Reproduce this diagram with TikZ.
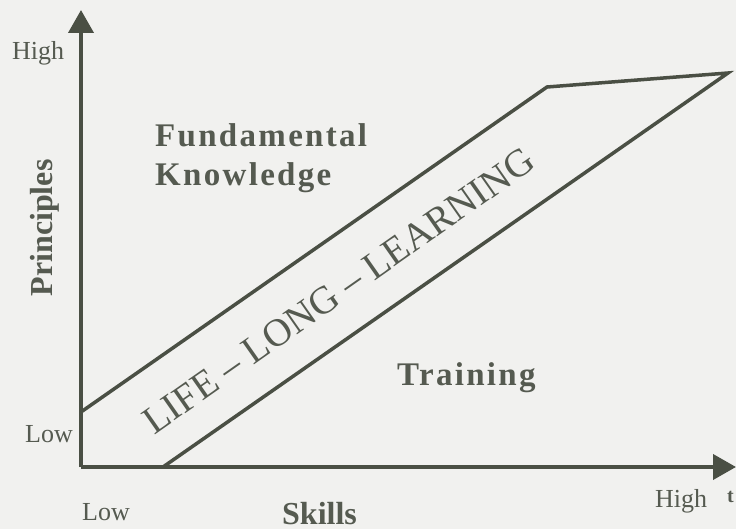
\documentclass[tikz,border=0pt]{standalone}
\usepackage{fontspec}
\setmainfont{Liberation Serif}
\newfontfamily\spacedbf{Liberation Serif}[LetterSpace=7]
\usetikzlibrary{arrows.meta}
\definecolor{ink}{HTML}{4A4F44}
\definecolor{txt}{HTML}{555A50}
\definecolor{paper}{HTML}{F1F1EF}
\tikzset{
  axis/.style={draw=ink, line width=4pt, -{Triangle[length=23pt,width=25pt]}},
  band/.style={draw=ink, line width=3.5pt, line join=miter},
  lbl/.style={text=txt, inner sep=0pt, font=\fontsize{26}{30}\selectfont},
  head/.style={text=txt, inner sep=0pt, font=\spacedbf\bfseries\fontsize{33}{39}\selectfont},
  title/.style={text=txt, inner sep=0pt, font=\bfseries\fontsize{32}{38}\selectfont},
}
\begin{document}
\begin{tikzpicture}[x=1pt,y=-1pt]
  \fill[paper] (0,0) rectangle (736,529);
  \useasboundingbox (0,0) rectangle (736,529);

  % axes
  \coordinate (O) at (81,467);
  \coordinate (ytip) at (81,10);
  \coordinate (xtip) at (736,467);
  \draw[axis] (O) -- (ytip);
  \draw[axis] (O) -- (xtip);

  % life-long-learning band
  \coordinate (u0) at (81,412);
  \coordinate (u1) at (547,87);
  \coordinate (u2) at (728,73);
  \coordinate (l0) at (163,467);
  \draw[band] (u0) -- (u1) -- (u2) -- (l0);

  % axis labels
  \node[lbl, anchor=base west] (yhigh) at (12,60) {High};
  \node[lbl, anchor=base west] (ylow) at (25,442) {Low};
  \node[lbl, anchor=base west] (xlow) at (82,520) {Low};
  \node[lbl, anchor=base west] (xhigh) at (655,507) {High};
  \node[text=txt, inner sep=0pt, anchor=base west, font=\bfseries\fontsize{20}{24}\selectfont] (tmark) at (727,502) {t};
  \node[title, anchor=base west] (skills) at (282,524) {Skills};
  \node[title, anchor=base, rotate=90] (principles) at (52,228) {Principles};

  % regions
  \node[head, anchor=base west] (fund) at (155,147) {Fundamental};
  \node[head, anchor=base west] (know) at (155,186) {Knowledge};
  \node[head, anchor=base west] (train) at (397,385) {Training};

  \node[text=txt, inner sep=0pt, anchor=base, rotate=35,
        font=\fontsize{39}{43}\selectfont] (lll) at (346,301) {LIFE -- LONG -- LEARNING};
\end{tikzpicture}
\end{document}
